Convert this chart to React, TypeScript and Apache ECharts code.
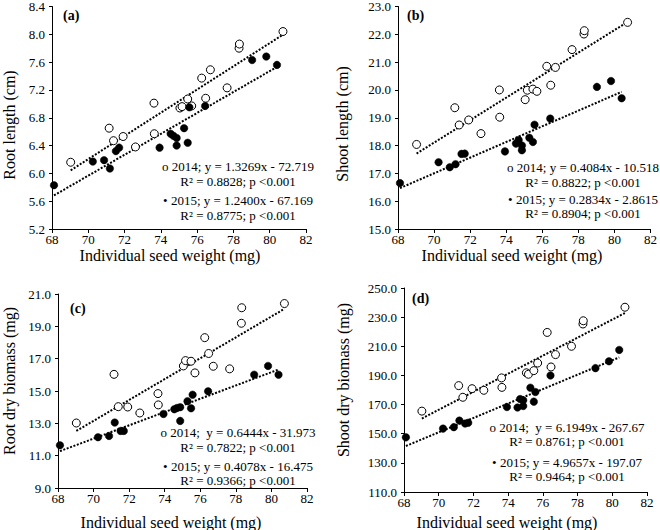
import React, { useEffect, useRef } from "react";
import * as echarts from "echarts";

const FONT = '"Liberation Serif", "Times New Roman", serif';

// Individual seed weight (mg)
const x2014 = [69.03, 71.15, 71.39, 71.92, 72.6, 73.62, 73.64, 75.05, 75.17, 75.48, 75.7, 76.25, 76.47, 76.73, 77.65, 78.31, 78.33, 80.73];
const x2015 = [68.11, 70.25, 70.87, 71.19, 71.52, 71.7, 73.93, 74.54, 74.69, 74.87, 74.87, 75.28, 75.48, 75.57, 76.44, 79.03, 79.81, 80.4];

// (a) Root length (cm)
const rootLen2014 = [6.16, 6.65, 6.47, 6.53, 6.38, 7.01, 6.57, 6.94, 6.96, 7.07, 6.97, 7.37, 7.08, 7.49, 7.23, 7.8, 7.86, 8.04];
const rootLen2015 = [5.83, 6.17, 6.19, 6.07, 6.32, 6.37, 6.37, 6.57, 6.54, 6.51, 6.4, 6.65, 6.44, 6.95, 6.97, 7.63, 7.68, 7.56];
// (b) Shoot length (cm)
const shootLen2014 = [18.04, 19.36, 18.74, 18.92, 18.43, 20.0, 19.02, 19.65, 19.99, 20.03, 19.95, 20.85, 20.17, 20.81, 21.45, 22.01, 22.13, 22.43];
const shootLen2015 = [16.65, 17.4, 17.22, 17.33, 17.7, 17.71, 17.79, 18.07, 18.2, 18.0, 17.83, 18.28, 18.13, 18.75, 18.97, 20.11, 20.32, 19.7];
// (c) Root dry biomass (mg)
const rootBio2014 = [13.02, 16.03, 14.03, 14.01, 13.64, 14.84, 14.14, 16.55, 16.88, 16.84, 16.12, 18.3, 17.32, 16.53, 16.37, 19.19, 20.15, 20.41];
const rootBio2015 = [11.64, 12.14, 12.22, 13.05, 12.53, 12.53, 13.58, 13.87, 13.95, 14.0, 13.15, 14.37, 13.93, 14.77, 14.98, 16.01, 16.55, 16.01];
// (d) Shoot dry biomass (mg)
const shootBio2014 = [165.5, 183.0, 175.0, 180.9, 179.8, 188.3, 181.8, 191.8, 190.8, 193.3, 198.5, 219.5, 195.8, 204.3, 210.0, 225.3, 227.5, 236.8];
const shootBio2015 = [147.5, 153.5, 154.5, 159.0, 157.0, 157.5, 168.3, 168.0, 173.8, 173.0, 169.0, 181.6, 172.0, 178.6, 190.0, 195.0, 199.7, 207.5];

const panelLabels = ["(a)", "(b)", "(c)", "(d)"];
const yTitles = ["Root length (cm)", "Shoot length (cm)", "Root dry biomass (mg)", "Shoot dry biomass (mg)"];
const xTitle = "Individual seed weight (mg)";
const yMins = [5.2, 15, 9, 110];
const yMaxs = [8.4, 23, 21, 250];
const yIntervals = [0.4, 1, 2, 20];
const xTicks = { min: 68, max: 82, interval: 2 };

const eqTexts = [
  ["o 2014; y = 1.3269x - 72.719", "R\u00B2 = 0.8828; p <0.001", "\u2022 2015; y = 1.2400x - 67.169", "R\u00B2 = 0.8775; p <0.001"],
  ["o 2014; y = 0.4084x - 10.518", "R\u00B2 = 0.8822; p <0.001", "\u2022 2015; y = 0.2834x - 2.8615", "R\u00B2 = 0.8904; p <0.001"],
  ["o 2014;  y = 0.6444x - 31.973", "R\u00B2 = 0.7822; p <0.001", "\u2022 2015; y = 0.4078x - 16.475", "R\u00B2 = 0.9366; p <0.001"],
  ["o 2014;  y = 6.1949x - 267.67", "R\u00B2 = 0.8761; p <0.001", "\u2022 2015; y = 4.9657x - 197.07", "R\u00B2 = 0.9464; p <0.001"],
];

const ys2014 = [rootLen2014, shootLen2014, rootBio2014, shootBio2014];
const ys2015 = [rootLen2015, shootLen2015, rootBio2015, shootBio2015];

// layout (px)
const grids = [
  { left: 52, top: 4, width: 254, height: 225 },
  { left: 398, top: 5, width: 253, height: 224 },
  { left: 58, top: 294, width: 249, height: 194 },
  { left: 404, top: 288, width: 243, height: 204 },
];
const yTitlePos = [
  { x: 9, y: 125 },
  { x: 342, y: 124 },
  { x: 9, y: 381 },
  { x: 343, y: 380 },
];
const xTitlePos = [
  { x: 170, y: 255 },
  { x: 512, y: 255 },
  { x: 171, y: 522 },
  { x: 507, y: 522 },
];
const labelPos = [
  { x: 63, y: 15 },
  { x: 407, y: 15 },
  { x: 70, y: 308 },
  { x: 412, y: 298 },
];
const eqPos = [
  { x: 238, ys: [166, 181, 200, 215] },
  { x: 583, ys: [167, 182, 199, 213] },
  { x: 238, ys: [432, 447, 466, 480] },
  { x: 567, ys: [427, 441, 462, 476] },
];

function fit(xs: number[], ys: number[]) {
  const n = xs.length;
  const mx = xs.reduce((a, b) => a + b, 0) / n;
  const my = ys.reduce((a, b) => a + b, 0) / n;
  let sxy = 0;
  let sxx = 0;
  for (let i = 0; i < n; i++) {
    sxy += (xs[i] - mx) * (ys[i] - my);
    sxx += (xs[i] - mx) * (xs[i] - mx);
  }
  const b = sxy / sxx;
  const a = my - b * mx;
  const x0 = Math.min(...xs);
  const x1 = Math.max(...xs);
  return [
    [x0, a + b * x0],
    [x1, a + b * x1],
  ];
}

function buildOption() {
  const grid: any[] = [];
  const xAxis: any[] = [];
  const yAxis: any[] = [];
  const series: any[] = [];
  const graphic: any[] = [];
  for (let i = 0; i < 4; i++) {
    grid.push({ ...grids[i], containLabel: false });
    xAxis.push({
      type: "value",
      gridIndex: i,
      min: xTicks.min,
      max: xTicks.max,
      interval: xTicks.interval,
      axisLine: { show: true, lineStyle: { color: "#000", width: 1 } },
      axisTick: { show: true, length: 4, lineStyle: { color: "#000" } },
      splitLine: { show: false },
      axisLabel: { color: "#000", fontFamily: FONT, fontSize: 13, margin: 4, lineHeight: 13 },
    });
    yAxis.push({
      type: "value",
      gridIndex: i,
      min: yMins[i],
      max: yMaxs[i],
      interval: yIntervals[i],
      axisLine: { show: true, lineStyle: { color: "#000", width: 1 } },
      axisTick: { show: true, length: 3, lineStyle: { color: "#000" } },
      splitLine: { show: false },
      axisLabel: {
        color: "#000",
        fontFamily: FONT,
        fontSize: 13,
        margin: 7,
        formatter: (v: number) => v.toFixed(1),
      },
    });
    const lineStyle = { color: "#000", width: 2, type: [2, 1.6] };
    series.push({
      type: "line",
      xAxisIndex: i,
      yAxisIndex: i,
      data: fit(x2014, ys2014[i]),
      showSymbol: false,
      symbol: "none",
      lineStyle,
      silent: true,
      z: 1,
    });
    series.push({
      type: "line",
      xAxisIndex: i,
      yAxisIndex: i,
      data: fit(x2015, ys2015[i]),
      showSymbol: false,
      symbol: "none",
      lineStyle,
      silent: true,
      z: 1,
    });
    series.push({
      type: "scatter",
      name: "2014",
      xAxisIndex: i,
      yAxisIndex: i,
      data: x2014.map((x, k) => [x, ys2014[i][k]]),
      symbol: "circle",
      symbolSize: 8,
      itemStyle: { color: "#fff", borderColor: "#000", borderWidth: 1, opacity: 1 },
      z: 3,
    });
    series.push({
      type: "scatter",
      name: "2015",
      xAxisIndex: i,
      yAxisIndex: i,
      data: x2015.map((x, k) => [x, ys2015[i][k]]),
      symbol: "circle",
      symbolSize: 7.5,
      itemStyle: { color: "#000", borderColor: "#000", borderWidth: 0.5, opacity: 1 },
      z: 4,
    });

    graphic.push({
      type: "text",
      x: yTitlePos[i].x,
      y: yTitlePos[i].y,
      rotation: Math.PI / 2,
      style: {
        text: yTitles[i],
        font: `16px ${FONT}`,
        fill: "#000",
        align: "center",
        verticalAlign: "middle",
      },
    });
    graphic.push({
      type: "text",
      x: xTitlePos[i].x,
      y: xTitlePos[i].y,
      style: {
        text: xTitle,
        font: `16px ${FONT}`,
        fill: "#000",
        align: "center",
        verticalAlign: "middle",
      },
    });
    graphic.push({
      type: "text",
      x: labelPos[i].x,
      y: labelPos[i].y,
      style: {
        text: panelLabels[i],
        font: `bold 14px ${FONT}`,
        fill: "#000",
        align: "left",
        verticalAlign: "middle",
      },
    });
    for (let k = 0; k < 4; k++) {
      graphic.push({
        type: "text",
        x: eqPos[i].x,
        y: eqPos[i].ys[k],
        style: {
          text: eqTexts[i][k],
          font: `13px ${FONT}`,
          fill: "#000",
          align: "center",
          verticalAlign: "middle",
        },
      });
    }
  }
  return {
    animation: false,
    backgroundColor: "#fff",
    grid,
    xAxis,
    yAxis,
    series,
    graphic,
  };
}

export default function App() {
  const ref = useRef<HTMLDivElement>(null);
  useEffect(() => {
    if (!ref.current) return;
    const chart = echarts.init(ref.current, null, { renderer: "svg" });
    chart.setOption(buildOption() as any);
    return () => chart.dispose();
  }, []);
  return (
    <div
      ref={ref}
      style={{ position: "fixed", left: 0, top: 0, width: 660, height: 530, background: "#fff" }}
    />
  );
}
